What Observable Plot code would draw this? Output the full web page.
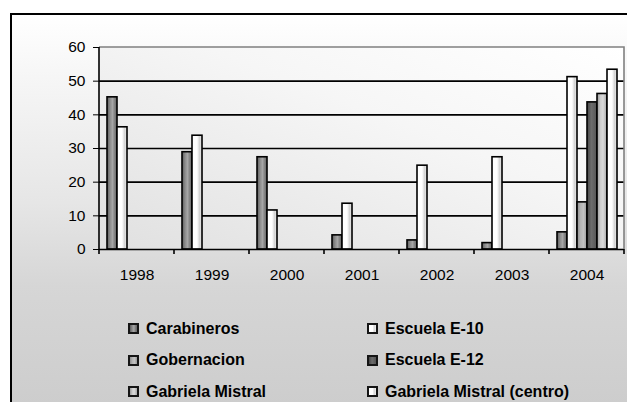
<!DOCTYPE html>
<html>
<head>
<meta charset="utf-8">
<script src="https://cdn.jsdelivr.net/npm/d3@7"></script>
<script src="https://cdn.jsdelivr.net/npm/@observablehq/plot@0.6"></script>
<style>
  html, body { margin: 0; padding: 0; background: #ffffff; }
  body { width: 627px; height: 402px; overflow: hidden; position: relative; font-family: "Liberation Sans", Arial, sans-serif; }
  #frame {
    position: absolute; left: 10px; top: 13px; width: 640px; height: 420px;
    border: 2px solid #000; box-sizing: border-box;
    background: linear-gradient(to bottom, #ffffff 0%, #f6f6f6 15%, #e6e6e6 45%, #d6d6d6 65%, #cbcbcb 100%);
  }
  #chart { position: absolute; left: 0; top: 0; }
  #legend {
    position: absolute; left: 128px; top: 313px;
    display: grid; grid-template-columns: 239px 240px; grid-auto-rows: 31.5px;
  }
  .item { display: flex; align-items: center; font-weight: bold; font-size: 16px; color: #000; white-space: nowrap; }
  .sw { width: 11px; height: 11px; border: 2px solid #151515; box-sizing: border-box; margin-right: 7px; flex: none; }
</style>
</head>
<body>
<div id="frame"></div>
<div id="chart"></div>
<div id="legend"></div>
<script>
const years = ["1998", "1999", "2000", "2001", "2002", "2003", "2004"];
const series = ["Carabineros", "Escuela E-10", "Gobernacion", "Escuela E-12", "Gabriela Mistral", "Gabriela Mistral (centro)"];
const carabineros = [45.2, 28.9, 27.4, 4.2, 2.7, 1.9, 5.1];
const escuelaE10 = [36.3, 33.8, 11.6, 13.6, 24.9, 27.4, 51.2];
const gobernacion = [null, null, null, null, null, null, 14.0];
const escuelaE12 = [null, null, null, null, null, null, 43.7];
const gabrielaMistral = [null, null, null, null, null, null, 46.2];
const gabrielaMistralCentro = [null, null, null, null, null, null, 53.4];
const yTicks = [0, 10, 20, 30, 40, 50, 60];

const seriesValues = [carabineros, escuelaE10, gobernacion, escuelaE12, gabrielaMistral, gabrielaMistralCentro];

// gradient styles (colour stops) per series
const gradStops = [
  [[0, "#5c5c5c"], [0.3, "#8a8a8a"], [0.55, "#a6a6a6"], [0.8, "#7c7c7c"], [1, "#686868"]],
  [[0, "#ffffff"], [0.5, "#ffffff"], [0.75, "#d6d6d6"], [1, "#eeeeee"]],
  [[0, "#8e8e8e"], [0.35, "#b4b4b4"], [0.65, "#c2c2c2"], [1, "#989898"]],
  [[0, "#484848"], [0.45, "#6c6c6c"], [1, "#545454"]],
  [[0, "#9a9a9a"], [0.35, "#cdcdcd"], [0.6, "#dadada"], [1, "#a6a6a6"]],
  [[0, "#ffffff"], [0.5, "#ffffff"], [0.75, "#d6d6d6"], [1, "#eeeeee"]]
];
const gradIds = series.map((_, i) => "barGrad" + i);

const rows = [];
years.forEach((yr, i) => {
  series.forEach((s, k) => {
    const v = seriesValues[k][i];
    if (v != null) rows.push({year: yr, series: s, value: v});
  });
});

const gridVals = yTicks.filter(v => v > 0 && v < 60);

const plot = Plot.plot({
  width: 627,
  height: 290,
  marginLeft: 99,
  marginRight: 3,
  marginTop: 47,
  marginBottom: 41,
  style: {background: "transparent", fontFamily: "'Liberation Sans', Arial, sans-serif", fontSize: "15.5px", color: "#000"},
  fx: {domain: years, paddingInner: 0, paddingOuter: 0, axis: "bottom", tickSize: 0, tickPadding: 19, label: null},
  x: {domain: series, paddingInner: 0, paddingOuter: 0.75, axis: null},
  y: {domain: [0, 60], ticks: yTicks, tickSize: 6, tickPadding: 8, label: null},
  color: {type: "ordinal", domain: series, range: gradIds.map(id => `url(#${id})`)},
  marks: [
    Plot.ruleY(gridVals, {stroke: "#000", strokeWidth: 1.6}),
    Plot.barY(rows, {fx: "year", x: "series", y: "value", fill: "series", stroke: "#000", strokeWidth: 1.6}),
    Plot.ruleY([0], {stroke: "#000", strokeWidth: 1.6})
  ]
});

document.getElementById("chart").appendChild(plot);

// decorations derived from the scales
const svg = d3.select(plot);
const fxs = plot.scale("fx");
const ys = plot.scale("y");
const xL = Math.min(...fxs.range), xR = Math.max(...fxs.range);
const yB = ys.apply(0), yT = ys.apply(60);

const defs = svg.insert("defs", ":first-child");
gradStops.forEach((stops, i) => {
  const g = defs.append("linearGradient").attr("id", gradIds[i]).attr("x1", 0).attr("x2", 1).attr("y1", 0).attr("y2", 0);
  stops.forEach(([o, c]) => g.append("stop").attr("offset", o).attr("stop-color", c));
});
const bg = defs.append("linearGradient").attr("id", "plotBg").attr("x1", 0).attr("y1", 1).attr("x2", 1).attr("y2", 0);
bg.append("stop").attr("offset", 0).attr("stop-color", "#e0e0e0");
bg.append("stop").attr("offset", 0.6).attr("stop-color", "#f6f6f6");
bg.append("stop").attr("offset", 1).attr("stop-color", "#ffffff");

svg.insert("rect", "defs + *")
  .attr("x", xL).attr("y", yT).attr("width", xR - xL).attr("height", yB - yT)
  .attr("fill", "url(#plotBg)");

const deco = svg.append("g");
// plot area border (top, right) in gray
deco.append("path").attr("d", `M${xL},${yT}H${xR}V${yB}`).attr("fill", "none").attr("stroke", "#808080").attr("stroke-width", 1.6);
// left axis line
deco.append("line").attr("x1", xL).attr("x2", xL).attr("y1", yT).attr("y2", yB).attr("stroke", "#000").attr("stroke-width", 1.6);
// category boundary ticks
const bounds = fxs.domain.map(d => fxs.apply(d)).concat([fxs.apply(fxs.domain[fxs.domain.length - 1]) + fxs.bandwidth]);
bounds.forEach(bx => {
  deco.append("line").attr("x1", bx).attr("x2", bx).attr("y1", yB).attr("y2", yB + 5).attr("stroke", "#000").attr("stroke-width", 1.6);
});

// legend (row-wise, two columns)
const legend = d3.select("#legend");
series.forEach((s, i) => {
  const stops = gradStops[i].map(([o, c]) => `${c} ${o * 100}%`).join(", ");
  const it = legend.append("div").attr("class", "item");
  it.append("div").attr("class", "sw").style("background", `linear-gradient(to right, ${stops})`);
  it.append("span").text(s);
});
</script>
</body>
</html>
